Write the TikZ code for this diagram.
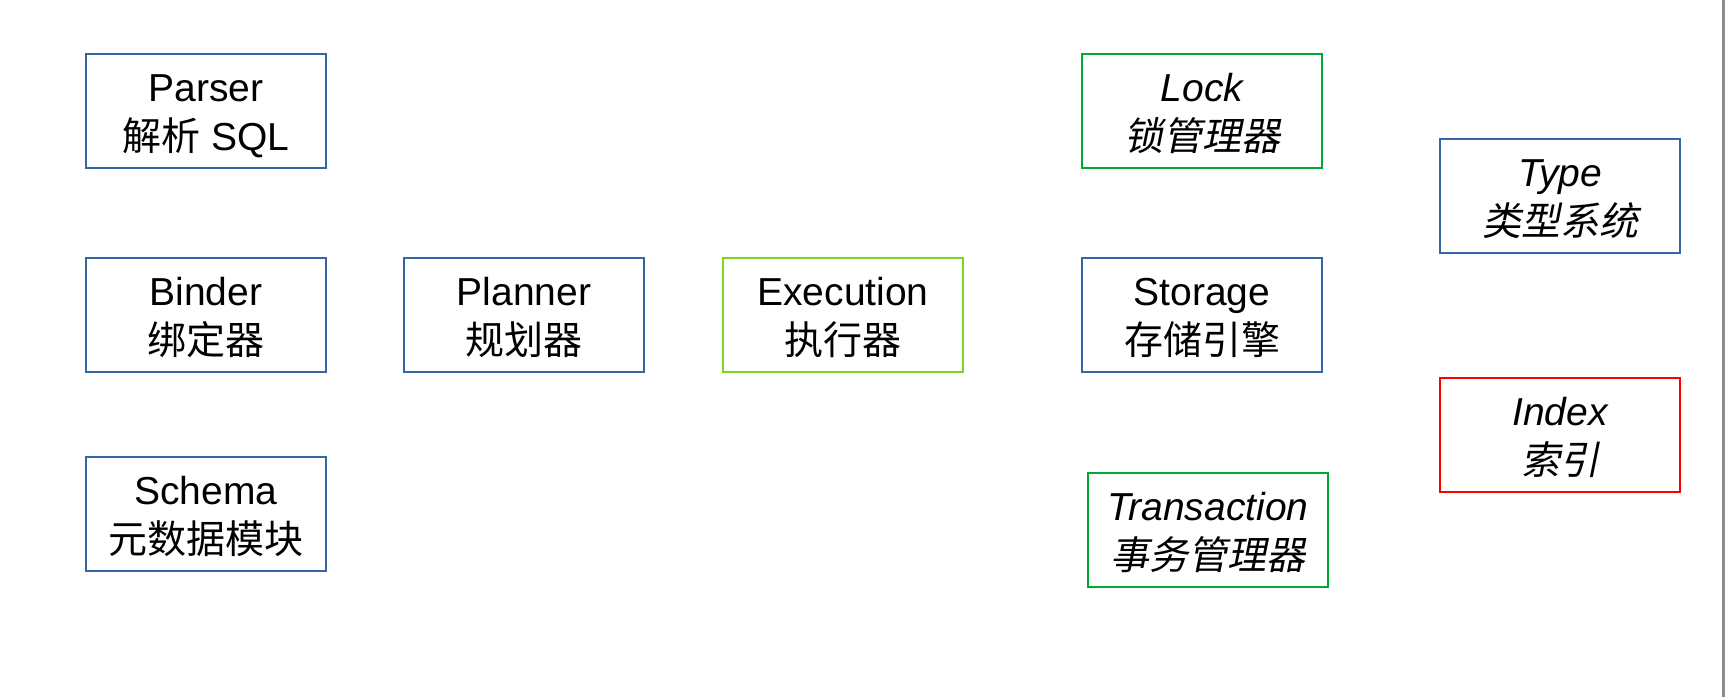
\documentclass[tikz,border=0pt]{standalone}
\usepackage{fontspec}
\setmainfont{Liberation Sans}
\newfontfamily\cjk{Noto Sans CJK SC}
\newfontfamily\cjkit[FakeSlant=0.2]{Noto Sans CJK SC}
\usepackage{tikz}
\definecolor{boxblue}{HTML}{3465A4}
\definecolor{boxlime}{HTML}{81D41A}
\definecolor{boxgreen}{HTML}{00A933}
\definecolor{boxred}{HTML}{FF0000}
\definecolor{edgegray}{HTML}{8C8C8C}

\begin{document}
\begin{tikzpicture}[x=.5pt, y=-.5pt,
    module/.style={draw=boxblue, line width=1pt, minimum width=120pt,
      minimum height=57pt, inner sep=0pt, align=center,
      text height=39pt, text depth=0pt,
      font=\fontsize{19.5}{24.5}\selectfont},
    lime/.style={module, draw=boxlime},
    green/.style={module, draw=boxgreen},
    red/.style={module, draw=boxred}]
  % page
  \useasboundingbox (0,0) rectangle (1727,697);
  \fill[white] (0,0) rectangle (1727,697);
  \fill[edgegray] (1722,0) rectangle (1725,697);

  % front end
  \node[module] (parser) at (206,111) {Parser\\{\cjk 解析} SQL};
  \node[module] (binder) at (206,315) {Binder\\{\cjk 绑定器}};
  \node[module] (schema) at (206,514) {Schema\\{\cjk 元数据模块}};
  \node[module] (planner) at (524,315) {Planner\\{\cjk 规划器}};

  % execution
  \node[lime] (execution) at (843,315) {Execution\\{\cjk 执行器}};

  % storage side
  \node[green] (lock) at (1202,111) {\itshape Lock\\{\cjkit 锁管理器}};
  \node[module] (storage) at (1202,315) {Storage\\{\cjk 存储引擎}};
  \node[green] (transaction) at (1208,530) {\itshape Transaction\\{\cjkit 事务管理器}};

  % type and index
  \node[module] (type) at (1560,196) {\itshape Type\\{\cjkit 类型系统}};
  \node[red] (index) at (1560,435) {\itshape Index\\{\cjkit 索引}};
\end{tikzpicture}
\end{document}
